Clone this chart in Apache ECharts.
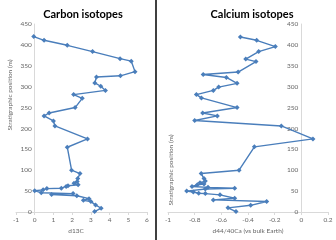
<!DOCTYPE html>
<html>
<head>
<meta charset="utf-8">
<script src="https://cdn.jsdelivr.net/npm/echarts@6/dist/echarts.min.js"></script>
<style>html,body{margin:0;padding:0;background:#fff}#c{width:336px;height:240px}</style>
</head>
<body>
<div id="c"></div>
<script>
var carbonD13C = [-0.05, 0.5, 1.74, 3.09, 4.56, 5.16, 5.36, 4.58, 3.3, 3.21, 3.53, 3.78, 2.08, 2.54, 2.16, 0.77, 0.5, 1.0, 1.08, 2.82, 1.74, 1.97, 2.42, 2.3, 2.27, 2.1, 2.32, 1.78, 1.68, 1.42, 0.65, 0.45, 0.0, 0.35, 2.05, 0.9, 2.25, 2.9, 2.6, 3.0, 3.25, 3.55, 3.2];
var carbonHeight = [420, 411, 399, 384, 367, 361, 336, 326, 323, 309, 301, 291, 281, 272, 250, 237, 230, 218, 206, 175, 155, 100, 92, 80, 73, 69, 65, 63, 61, 57, 56, 53, 51, 46, 44, 42, 39, 32, 28, 25, 17, 9, 1];
var calciumD44 = [-0.457, -0.335, -0.195, -0.32, -0.417, -0.34, -0.474, -0.736, -0.562, -0.482, -0.62, -0.66, -0.787, -0.749, -0.482, -0.74, -0.63, -0.8, -0.15, 0.087, -0.352, -0.467, -0.751, -0.73, -0.72, -0.76, -0.73, -0.78, -0.82, -0.7, -0.5, -0.72, -0.86, -0.81, -0.77, -0.72, -0.61, -0.5, -0.66, -0.26, -0.38, -0.55, -0.49];
var calciumHeight = [419, 411, 396, 384, 366, 360, 335, 329, 322, 308, 299, 291, 281, 273, 250, 237, 230, 219, 206, 175, 156, 100, 92, 80, 74, 70, 67, 65, 61, 59, 57, 55, 50, 48, 45, 44, 41, 33, 29, 25, 16, 10, 1];
var carbonTicks = [-1, 0, 1, 2, 3, 4, 5, 6];
var calciumTicks = [-1, -0.8, -0.6, -0.4, -0.2, 0, 0.2];
var heightTicks = [0, 50, 100, 150, 200, 250, 300, 350, 400, 450];

function pairs(xs, ys) { return xs.map(function (x, i) { return [x, ys[i]]; }); }

var FONT = 'Lato';
var GRAY = '#666666';
var LINE = '#d9d9d9';
var BLUE = '#4A7EBB';

var G1 = { left: 16, top: 24, width: 131, height: 188 };
var G2 = { left: 168, top: 24, width: 160, height: 188 };

function zeroOffset(grid, ticks) {
  var mn = ticks[0], mx = ticks[ticks.length - 1];
  return -grid.width * (0 - mn) / (mx - mn);
}

function xAxisCfg(idx, ticks, name, namePad) {
  return {
    type: 'value', gridIndex: idx,
    min: ticks[0], max: ticks[ticks.length - 1], interval: ticks[1] - ticks[0],
    name: name, nameLocation: 'middle', nameGap: 12,
    nameTextStyle: { color: GRAY, fontSize: 6.5, fontFamily: FONT, padding: namePad },
    axisLine: { show: true, onZero: false, lineStyle: { color: LINE, width: 1 } },
    axisTick: { show: true, length: 3, lineStyle: { color: LINE } },
    axisLabel: { color: GRAY, fontSize: 6.5, fontFamily: FONT, margin: 4,
      formatter: function (v) { return String(Math.round(v * 10) / 10); } },
    splitLine: { show: false }
  };
}
function yAxisCfg(idx, offset) {
  return {
    type: 'value', gridIndex: idx, position: 'left', offset: offset,
    min: heightTicks[0], max: heightTicks[heightTicks.length - 1], interval: heightTicks[1] - heightTicks[0],
    axisLine: { show: true, onZero: false, lineStyle: { color: LINE, width: 1 } },
    axisTick: { show: false },
    axisLabel: { color: GRAY, fontSize: 6.5, fontFamily: FONT, margin: 3 },
    splitLine: { show: false }
  };
}
function seriesCfg(idx, data) {
  return {
    type: 'line', xAxisIndex: idx, yAxisIndex: idx, data: data,
    symbol: 'diamond', symbolSize: 5, showSymbol: true,
    lineStyle: { color: BLUE, width: 1.4 },
    itemStyle: { color: BLUE },
    animation: false
  };
}

var chart = echarts.init(document.getElementById('c'), null, { renderer: 'canvas' });
chart.setOption({
  animation: false,
  backgroundColor: '#ffffff',
  title: [
    { text: 'Carbon isotopes', left: 78, top: 4, textAlign: 'center',
      textStyle: { fontFamily: FONT, fontSize: 11, fontWeight: 'bold', color: '#000' } },
    { text: 'Calcium isotopes', left: 247, top: 4, textAlign: 'center',
      textStyle: { fontFamily: FONT, fontSize: 11, fontWeight: 'bold', color: '#000' } }
  ],
  grid: [ G1, G2 ],
  xAxis: [ xAxisCfg(0, carbonTicks, 'd13C', [0, 11, 0, 0]), xAxisCfg(1, calciumTicks, 'd44/40Ca (vs bulk Earth)', [0, 0, 0, 0]) ],
  yAxis: [ yAxisCfg(0, zeroOffset(G1, carbonTicks)), yAxisCfg(1, zeroOffset(G2, calciumTicks)) ],
  series: [ seriesCfg(0, pairs(carbonD13C, carbonHeight)), seriesCfg(1, pairs(calciumD44, calciumHeight)) ],
  graphic: [
    { type: 'text', x: 10, y: 95, rotation: Math.PI / 2,
      style: { text: 'Stratigraphic position (m)', fill: GRAY, fontSize: 6.5, fontFamily: FONT, textAlign: 'center', textVerticalAlign: 'middle' } },
    { type: 'text', x: 171, y: 170, rotation: Math.PI / 2,
      style: { text: 'Stratigraphic position (m)', fill: GRAY, fontSize: 6.5, fontFamily: FONT, textAlign: 'center', textVerticalAlign: 'middle' } },
    { type: 'line', shape: { x1: 156, y1: 0, x2: 156, y2: 240 },
      style: { stroke: '#000', lineWidth: 1.5 } }
  ]
});
</script>
</body>
</html>
